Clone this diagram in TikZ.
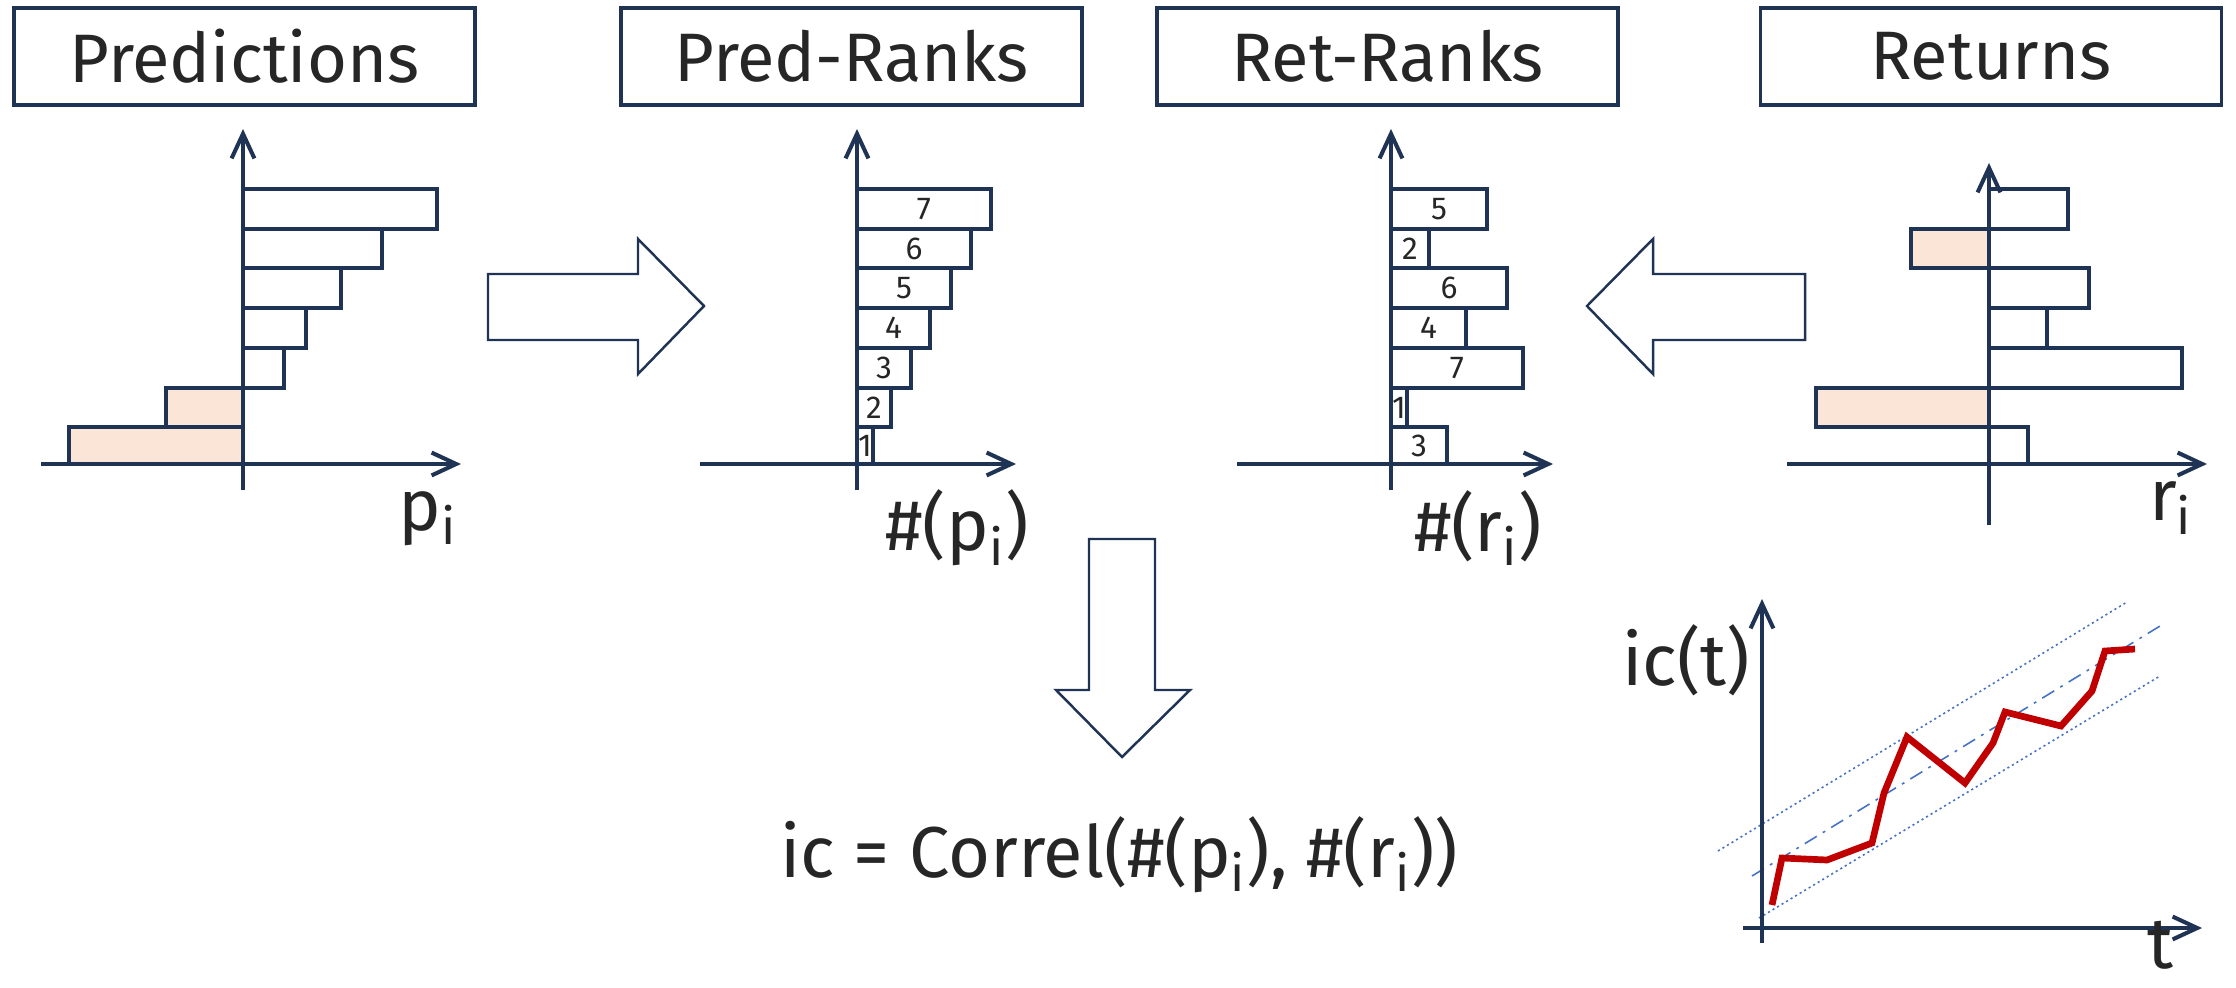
\documentclass[tikz,border=0pt]{standalone}
\usepackage{fontspec}
\setmainfont{Fira Sans}
\usetikzlibrary{arrows.meta}
\definecolor{navy}{HTML}{1F3354}
\definecolor{peach}{HTML}{FBE5D6}
\definecolor{redline}{HTML}{C00000}
\definecolor{trend}{HTML}{4472C4}
\definecolor{ink}{HTML}{262626}
\begin{document}
\begin{tikzpicture}[x=0.01cm,y=-0.01cm,
  titlebox/.style={draw=navy,line width=1pt,minimum width=4.61cm,minimum height=0.97cm,inner sep=0pt,font=\fontsize{19.5}{22}\selectfont,text=ink},
  bar/.style={draw=navy,line width=1.05pt},
  negbar/.style={bar,fill=peach},
  axis/.style={draw=navy,line width=1.15pt,-{Straight Barb[length=7pt,width=6.5pt,line width=1.15pt]}},
  rank/.style={font=\fontsize{9}{10}\selectfont,text=ink,inner sep=0pt},
  axlabel/.style={font=\fontsize{20.5}{24}\selectfont,text=ink,inner sep=0pt},
  bigarrow/.style={draw=navy,line width=0.7pt,line join=miter},
  trendline/.style={draw=trend,line width=0.45pt},
]
\useasboundingbox (0,0) rectangle (2236,988);

% ---- title boxes
\node[titlebox] (pred) at (244.5,56.5) {Predictions};
\node[titlebox] (predrank) at (851.5,56.5) {Pred-Ranks};
\node[titlebox] (retrank) at (1387.5,56.5) {Ret-Ranks};
\node[titlebox] (ret) at (1991,56.5) {Returns};

% ---- Predictions chart
\draw[bar] (243,189) rectangle (437,229);
\draw[bar] (243,229) rectangle (382,268);
\draw[bar] (243,268) rectangle (341,308);
\draw[bar] (243,308) rectangle (306,348);
\draw[bar] (243,348) rectangle (284,388);
\draw[negbar] (166,388) rectangle (243,427);
\draw[negbar] (69,427) rectangle (243,464);
\coordinate (pyb) at (243,490); \coordinate (pyt) at (243,129);
\coordinate (pxl) at (41,464); \coordinate (pxr) at (461,464);
\draw[axis] (pyb) -- (pyt);
\draw[axis] (pxl) -- (pxr);
\node[axlabel] (plab) at (428,519) {p\textsubscript{i}};

% ---- Pred-Ranks chart
\draw[bar] (857,189) rectangle (991,229);
\draw[bar] (857,229) rectangle (971,268);
\draw[bar] (857,268) rectangle (951,308);
\draw[bar] (857,308) rectangle (930,348);
\draw[bar] (857,348) rectangle (911,388);
\draw[bar] (857,388) rectangle (891,427);
\draw[bar] (857,427) rectangle (873,464);
\node[rank] (pr7) at (924,209) {7};
\node[rank] (pr6) at (914,248.5) {6};
\node[rank] (pr5) at (904,288) {5};
\node[rank] (pr4) at (893.5,328) {4};
\node[rank] (pr3) at (884,368) {3};
\node[rank] (pr2) at (874,407.5) {2};
\node[rank] (pr1) at (865,445.5) {1};
\coordinate (qyb) at (857,490); \coordinate (qyt) at (857,129);
\coordinate (qxl) at (700,464); \coordinate (qxr) at (1016,464);
\draw[axis] (qyb) -- (qyt);
\draw[axis] (qxl) -- (qxr);
\node[axlabel] (qlab) at (957,528) {\#(p\textsubscript{i})};

% ---- Ret-Ranks chart
\draw[bar] (1391,189) rectangle (1487,229);
\draw[bar] (1391,229) rectangle (1429,268);
\draw[bar] (1391,268) rectangle (1507,308);
\draw[bar] (1391,308) rectangle (1466,348);
\draw[bar] (1391,348) rectangle (1523,388);
\draw[bar] (1391,388) rectangle (1407,427);
\draw[bar] (1391,427) rectangle (1447,464);
\node[rank] (rr5) at (1439,209) {5};
\node[rank] (rr2) at (1410,248.5) {2};
\node[rank] (rr6) at (1449,288) {6};
\node[rank] (rr4) at (1428.5,328) {4};
\node[rank] (rr7) at (1457,368) {7};
\node[rank] (rr1) at (1399,407.5) {1};
\node[rank] (rr3) at (1419,445.5) {3};
\coordinate (syb) at (1391,490); \coordinate (syt) at (1391,129);
\coordinate (sxl) at (1237,464); \coordinate (sxr) at (1553,464);
\draw[axis] (syb) -- (syt);
\draw[axis] (sxl) -- (sxr);
\node[axlabel] (slab) at (1478,528) {\#(r\textsubscript{i})};

% ---- Returns chart
\draw[bar] (1989,189) rectangle (2068,229);
\draw[negbar] (1911,229) rectangle (1989,268);
\draw[bar] (1989,268) rectangle (2089,308);
\draw[bar] (1989,308) rectangle (2047,348);
\draw[bar] (1989,348) rectangle (2182,388);
\draw[negbar] (1816,388) rectangle (1989,427);
\draw[bar] (1989,427) rectangle (2028,464);
\coordinate (ryb) at (1989,525); \coordinate (ryt) at (1989,163);
\coordinate (rxl) at (1787,464); \coordinate (rxr) at (2207,464);
\draw[axis] (ryb) -- (ryt);
\draw[axis] (rxl) -- (rxr);
\node[axlabel] (rlab) at (2171,508) {r\textsubscript{i}};

% ---- big block arrows
\draw[bigarrow] (488,274) -- (638,274) -- (638,239) -- (704,306) -- (638,374) -- (638,340) -- (488,340) -- cycle;
\draw[bigarrow] (1805,274) -- (1653,274) -- (1653,239) -- (1587,306) -- (1653,374) -- (1653,340) -- (1805,340) -- cycle;
\draw[bigarrow] (1089,539) -- (1155,539) -- (1155,690) -- (1190,690) -- (1122,757) -- (1056,690) -- (1089,690) -- cycle;

% ---- formula
\node[axlabel,anchor=base] (formula) at (1119,877) {ic = Correl(\#(p\textsubscript{i}), \#(r\textsubscript{i}))};

% ---- ic(t) chart
\draw[trendline,dash pattern=on 0.6pt off 0.9pt] (1718,851) -- (2127,602);
\draw[trendline,dash pattern=on 4pt off 2pt on 0.8pt off 2pt] (1752,876) -- (2160,626);
\draw[trendline,dash pattern=on 0.6pt off 0.9pt] (1759,918) -- (2160,676);
\coordinate (iyb) at (1762,943); \coordinate (iyt) at (1762,599);
\coordinate (ixl) at (1743,928); \coordinate (ixr) at (2202,928);
\draw[axis] (iyb) -- (iyt);
\draw[axis] (ixl) -- (ixr);
\draw[redline,line width=1.9pt,line join=miter]
  (1772,905) -- (1782,858) -- (1827,860) -- (1872,843) -- (1884,793) -- (1907,737)
  -- (1965,783) -- (1993,743) -- (2005,712) -- (2061,726) -- (2092,691) -- (2105,651) -- (2135,649);
\node[axlabel,anchor=base] (iclab) at (1686,685) {ic(t)};
\node[axlabel,anchor=base] (tlab) at (2160,968) {t};
\end{tikzpicture}
\end{document}
